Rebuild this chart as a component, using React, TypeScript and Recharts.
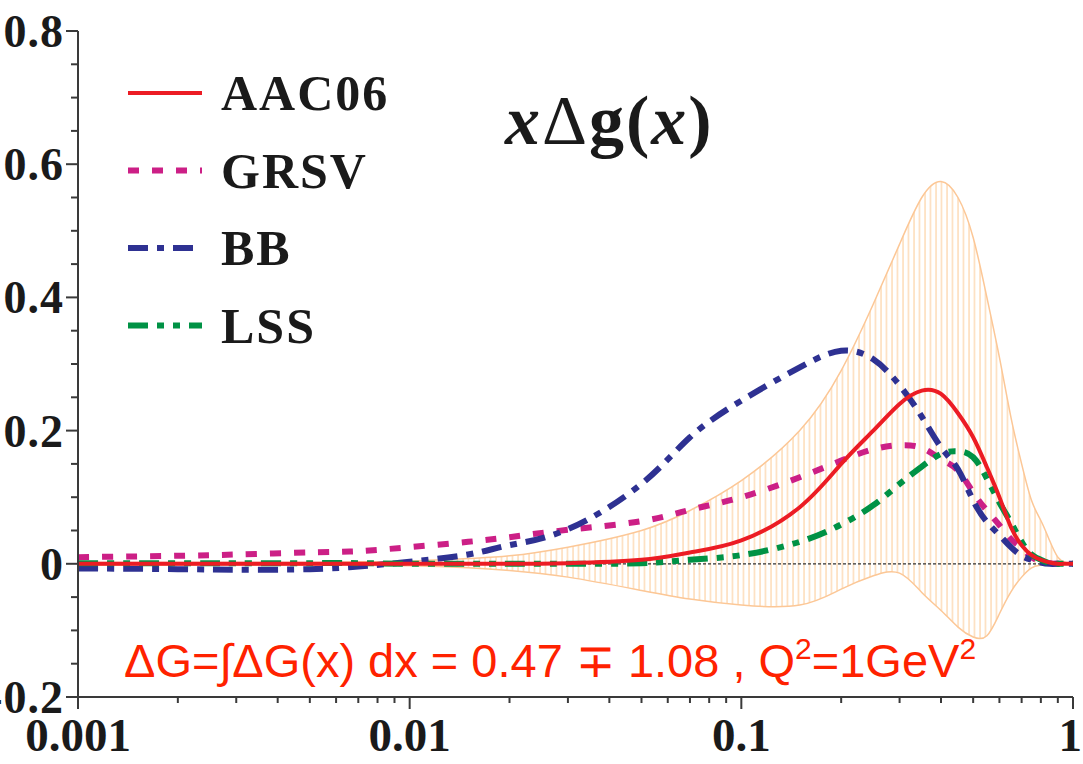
import {
  ComposedChart,
  Area,
  Line,
  XAxis,
  YAxis,
  ReferenceLine,
  Legend,
} from 'recharts';

// x grid (log spaced) and curves
const xs = [
  0.001, 0.002, 0.003, 0.005, 0.007, 0.01, 0.015, 0.02, 0.03, 0.05, 0.07, 0.1,
  0.15, 0.2, 0.25, 0.3, 0.35, 0.4, 0.45, 0.5, 0.55, 0.6, 0.65, 0.7, 0.75, 0.8,
  0.85, 0.9, 0.95, 1.0,
];
const aac06 = [
  0, 0, 0, 0, 0, 0, 0, 0, 0.001, 0.006, 0.017, 0.035, 0.085, 0.15, 0.2, 0.24,
  0.26, 0.255, 0.226, 0.19, 0.145, 0.1, 0.055, 0.028, 0.013, 0.006, 0.002, 0, 0,
  0,
];
const grsv = [
  0.01, 0.012, 0.014, 0.017, 0.019, 0.025, 0.033, 0.04, 0.051, 0.064, 0.081,
  0.1, 0.13, 0.155, 0.172, 0.178, 0.174, 0.157, 0.14, 0.107, 0.08, 0.058, 0.037,
  0.024, 0.01, 0.004, 0.001, 0, 0, 0,
];
const bb = [
  -0.007, -0.008, -0.009, -0.008, -0.004, 0.003, 0.014, 0.028, 0.052, 0.12,
  0.19, 0.245, 0.295, 0.32, 0.307, 0.268, 0.221, 0.175, 0.142, 0.095, 0.063,
  0.043, 0.025, 0.012, 0.006, 0.002, 0, 0, 0, 0,
];
const lss = [
  0.001, 0.001, 0.001, 0.001, 0.001, 0, 0, 0, 0, 0.001, 0.006, 0.013, 0.033,
  0.059, 0.088, 0.12, 0.146, 0.165, 0.169, 0.16, 0.128, 0.092, 0.062, 0.033,
  0.014, 0.006, 0.001, 0, 0, 0,
];
const bandLow = [
  -0.002, -0.002, -0.002, -0.002, -0.002, -0.003, -0.006, -0.01, -0.02, -0.04,
  -0.053, -0.062, -0.062, -0.038, -0.018, -0.014, -0.043, -0.07, -0.095, -0.11,
  -0.108, -0.075, -0.042, -0.02, -0.006, -0.002, 0, 0, 0, 0,
];
const bandHigh = [
  0.002, 0.002, 0.002, 0.002, 0.003, 0.004, 0.008, 0.012, 0.025, 0.05, 0.08,
  0.125, 0.2, 0.29, 0.39, 0.48, 0.55, 0.574, 0.55, 0.49, 0.4, 0.31, 0.22,
  0.15, 0.095, 0.065, 0.035, 0.01, 0.002, 0,
];

const xTicks = [
  0.001, 0.002, 0.003, 0.004, 0.005, 0.006, 0.007, 0.008, 0.009, 0.01, 0.02,
  0.03, 0.04, 0.05, 0.06, 0.07, 0.08, 0.09, 0.1, 0.2, 0.3, 0.4, 0.5, 0.6, 0.7,
  0.8, 0.9, 1,
];
const xMajor = [0.001, 0.01, 0.1, 1];
const yTicks = [
  -0.2, -0.15, -0.1, -0.05, 0, 0.05, 0.1, 0.15, 0.2, 0.25, 0.3, 0.35, 0.4, 0.45,
  0.5, 0.55, 0.6, 0.65, 0.7, 0.75, 0.8,
];
const yMajor = [-0.2, 0, 0.2, 0.4, 0.6, 0.8];

const seriesOrder = ['AAC06', 'GRSV', 'BB', 'LSS'];
const styles: Record<string, { color: string; dash?: string; width: number }> = {
  AAC06: { color: '#ec1c24', width: 4 },
  GRSV: { color: '#cc1f86', dash: '11 13', width: 6 },
  BB: { color: '#2e3192', dash: '20 9 7 9', width: 6 },
  LSS: { color: '#009245', dash: '20 9 7 9 7 9', width: 6 },
};

const data = xs.map((x, i) => ({
  x,
  AAC06: aac06[i],
  GRSV: grsv[i],
  BB: bb[i],
  LSS: lss[i],
  band: [bandLow[i], bandHigh[i]],
}));

const serif = '"Liberation Serif", "Times New Roman", serif';
const axisColor = '#3a3a3a';

function XTick(props: any) {
  const { x, y, payload } = props;
  const v = payload.value;
  const major = xMajor.some((m) => Math.abs(m - v) < 1e-9);
  const last = Math.abs(v - 1) < 1e-9;
  return (
    <g>
      <line x1={x} x2={x} y1={y} y2={y + (major ? 12 : 6)} stroke={axisColor} strokeWidth={2} />
      {major && (
        <text
          x={last ? x + 9 : x}
          y={y + 54}
          textAnchor={last ? 'end' : 'middle'}
          fontFamily={serif}
          fontWeight='bold'
          fontSize={47}
          fill='#1a1a1a'
        >
          {String(v)}
        </text>
      )}
    </g>
  );
}

function YTick(props: any) {
  const { x, y, payload } = props;
  const v = payload.value;
  const major = yMajor.some((m) => Math.abs(m - v) < 1e-9);
  return (
    <g>
      <line x1={x - (major ? 12 : 7)} x2={x} y1={y} y2={y} stroke={axisColor} strokeWidth={2} />
      {major && (
        <text
          x={x - 14}
          y={y + 16}
          textAnchor='end'
          fontFamily={serif}
          fontWeight='bold'
          fontSize={46}
          letterSpacing={1}
          fill='#1a1a1a'
        >
          {String(v)}
        </text>
      )}
    </g>
  );
}

function LegendBox(props: any) {
  const items = [...(props.payload || [])]
    .filter((p: any) => seriesOrder.includes(p.value))
    .sort((a: any, b: any) => seriesOrder.indexOf(a.value) - seriesOrder.indexOf(b.value));
  return (
    <svg width={320} height={300}>
      {items.map((p: any, i: number) => {
        const s = styles[p.value];
        const cy = 33 + i * 77.5;
        return (
          <g key={p.value}>
            <line
              x1={28}
              x2={102}
              y1={cy}
              y2={cy}
              stroke={s.color}
              strokeWidth={s.width}
              strokeDasharray={s.dash}
            />
            <text
              x={121}
              y={cy + 17}
              fontFamily={serif}
              fontWeight='bold'
              fontSize={50}
              letterSpacing={2}
              fill='#1a1a1a'
            >
              {p.value}
            </text>
          </g>
        );
      })}
    </svg>
  );
}

export default function App() {
  return (
    <div style={{ position: 'absolute', left: 0, top: 0, background: '#fff' }}>
      <ComposedChart
        width={1083}
        height={764}
        data={data}
        margin={{ top: 31, right: 10, left: 0, bottom: 0 }}
      >
        <defs>
          <pattern id='hatch' width={5.5} height={10} patternUnits='userSpaceOnUse'>
            <line x1={1} y1={0} x2={1} y2={10} stroke='#fdd2a6' strokeWidth={1.2} />
          </pattern>
        </defs>
        <XAxis
          dataKey='x'
          type='number'
          scale='log'
          domain={[0.001, 1]}
          ticks={xTicks}
          interval={0}
          tick={XTick}
          tickSize={0}
          tickMargin={0}
          height={67}
          allowDataOverflow
          axisLine={{ stroke: axisColor, strokeWidth: 2 }}
        />
        <XAxis
          xAxisId='top'
          dataKey='x'
          type='number'
          scale='log'
          domain={[0.001, 1]}
          orientation='top'
          height={0}
          tick={false}
          tickLine={false}
          allowDataOverflow
          axisLine={{ stroke: axisColor, strokeWidth: 2 }}
        />
        <YAxis
          type='number'
          domain={[-0.2, 0.8]}
          ticks={yTicks}
          interval={0}
          tick={YTick}
          tickSize={0}
          tickMargin={0}
          width={78}
          allowDataOverflow
          axisLine={{ stroke: axisColor, strokeWidth: 2 }}
        />
        <YAxis
          yAxisId='right'
          orientation='right'
          type='number'
          domain={[-0.2, 0.8]}
          width={0}
          tick={false}
          tickLine={false}
          axisLine={{ stroke: axisColor, strokeWidth: 2 }}
        />
        <Area
          dataKey='band'
          type='natural'
          fill='url(#hatch)'
          fillOpacity={1}
          stroke='#fcc796'
          strokeWidth={1.5}
          legendType='none'
          isAnimationActive={false}
        />
        <ReferenceLine y={0} stroke='#333' strokeWidth={1.2} strokeDasharray='3 2' />
        {['GRSV', 'BB', 'LSS', 'AAC06'].map((name) => (
          <Line
            key={name}
            dataKey={name}
            name={name}
            type='natural'
            stroke={styles[name].color}
            strokeWidth={styles[name].width}
            strokeDasharray={styles[name].dash}
            dot={false}
            isAnimationActive={false}
          />
        ))}
        <Legend
          layout='vertical'
          align='center'
          verticalAlign='middle'
          wrapperStyle={{ left: 100, top: 60, width: 320, height: 300 }}
          content={LegendBox}
        />
        <text
          x={505}
          y={144}
          fontFamily={serif}
          fontWeight='bold'
          fontSize={70}
          letterSpacing={2}
          fill='#1a1a1a'
        >
          <tspan fontStyle='italic'>x</tspan>
          <tspan fontWeight='normal'>Δ</tspan>
          <tspan>g(</tspan>
          <tspan fontStyle='italic'>x</tspan>
          <tspan>)</tspan>
        </text>
        <text
          x={124}
          y={677}
          fontFamily='"Liberation Sans", Arial, sans-serif'
          fontSize={47}
          fill='#ff2200'
        >
          ΔG=∫ΔG(x) dx = 0.47 ∓ 1.08 , Q
          <tspan dy={-18} fontSize={30}>2</tspan>
          <tspan dy={18}>=1GeV</tspan>
          <tspan dy={-18} fontSize={30}>2</tspan>
        </text>
      </ComposedChart>
    </div>
  );
}
